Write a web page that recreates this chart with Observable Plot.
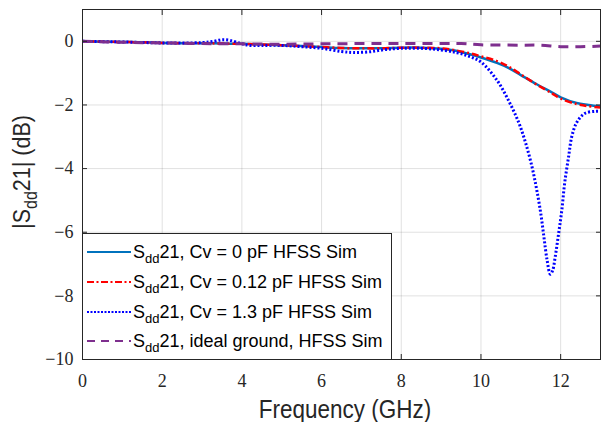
<!DOCTYPE html>
<html><head><meta charset="utf-8">
<script src="https://cdn.jsdelivr.net/npm/d3@7"></script>
<script src="https://cdn.jsdelivr.net/npm/@observablehq/plot@0.6"></script>
<style>
body{margin:0;background:#fff}
#wrap{position:relative;width:601px;height:422px;overflow:hidden}
#legend{position:absolute;left:82px;top:233px;width:308px;height:125px;border:1px solid #262626;background:#fff;font-family:"Liberation Sans",Arial,sans-serif;font-size:18px;color:#000}
.row{position:absolute;left:4px;height:24px;display:flex;align-items:center;white-space:nowrap}
.row svg{margin-right:2px}
.sub{font-size:13px;position:relative;top:5px}
</style>
</head><body><div id="wrap"></div>
<script>
// ---- data ----
const freqCv0 = [0,0.5,1,1.5,2,2.5,3,3.5,4,4.5,5,5.5,6,6.5,7,7.5,8,8.5,9,9.3,9.7,10,10.4,10.7,11,11.4,11.8,12,12.4,12.7,13];
const sddCv0  = [0,-0.01,-0.02,-0.03,-0.05,-0.06,-0.06,-0.07,-0.08,-0.1,-0.12,-0.15,-0.18,-0.21,-0.22,-0.22,-0.2,-0.2,-0.23,-0.28,-0.4,-0.51,-0.68,-0.84,-1.06,-1.35,-1.62,-1.76,-1.94,-2.0,-2.05];

const freqCv012 = [0,0.5,1,1.5,2,2.5,3,3.5,4,4.5,5,5.5,6,6.5,7,7.5,8,8.5,9,9.3,9.7,10,10.4,10.7,11,11.4,11.8,12,12.4,12.7,13];
const sddCv012  = [0,-0.01,-0.02,-0.03,-0.05,-0.06,-0.06,-0.07,-0.08,-0.1,-0.12,-0.15,-0.18,-0.21,-0.22,-0.22,-0.2,-0.2,-0.22,-0.27,-0.37,-0.47,-0.62,-0.8,-1.04,-1.36,-1.65,-1.8,-1.97,-2.04,-2.08];

const freqCv13 = [0,0.5,1,2,3,3.3,3.5,3.7,4,4.2,4.5,5,5.5,6,6.5,6.8,7.2,7.6,8,8.5,9,9.4,9.7,10,10.4,10.7,10.95,11.12,11.28,11.4,11.5,11.58,11.66,11.74,11.8,11.86,11.95,12.03,12.1,12.2,12.28,12.4,12.6,12.87,13];
const sddCv13  = [0,-0.01,-0.02,-0.05,-0.04,0.0,0.05,0.03,-0.08,-0.13,-0.13,-0.13,-0.17,-0.22,-0.32,-0.35,-0.33,-0.26,-0.22,-0.22,-0.27,-0.36,-0.47,-0.65,-1.22,-1.88,-2.56,-3.19,-3.94,-4.67,-5.4,-6.15,-6.88,-7.32,-7.2,-6.8,-6.03,-5.3,-4.46,-3.62,-2.99,-2.56,-2.27,-2.2,-2.2];

const freqIdeal = [0,1,2,3,4,5,6,7,8,9,9.5,10,11,11.5,12,12.5,13];
const sddIdeal  = [0,-0.03,-0.05,-0.07,-0.08,-0.09,-0.08,-0.07,-0.07,-0.07,-0.07,-0.11,-0.12,-0.12,-0.17,-0.17,-0.15];

const xTicks = [0,2,4,6,8,10,12];
const yTicks = [0,-2,-4,-6,-8,-10];
const legendLabels = [
  ["S","dd","21, Cv = 0 pF HFSS Sim"],
  ["S","dd","21, Cv = 0.12 pF HFSS Sim"],
  ["S","dd","21, Cv = 1.3 pF HFSS Sim"],
  ["S","dd","21, ideal ground, HFSS Sim"]
];
const xLabel = "Frequency (GHz)";
const yLabelParts = ["|S","dd","21| (dB)"];

// ---- styles ----
const colors = ["#0072BD","#FF0000","#0000FF","#7E2F8E"];
const dashes = [null,"7,3,2,3","2,2","10,7"];
const widths = [2.5,2.5,3,3];
const tickFont = "'Liberation Serif','DejaVu Serif',serif";

const rows = (fs, vs) => fs.map((f,i)=>({f, v: vs[i]}));
const series = [rows(freqCv0,sddCv0), rows(freqCv012,sddCv012), rows(freqCv13,sddCv13), rows(freqIdeal,sddIdeal)];

const plot = Plot.plot({
  width: 601, height: 422,
  marginLeft: 82, marginRight: 1, marginTop: 9, marginBottom: 63,
  style: {background:"#fff", color:"#262626", overflow:"visible"},
  x: {domain:[0,13]},
  y: {domain:[-10,1]},
  marks: [
    Plot.gridX(xTicks, {stroke:"#000", strokeOpacity:0.12}),
    Plot.gridY(yTicks, {stroke:"#000", strokeOpacity:0.12}),
    ...series.map((d,i)=>Plot.line(d, {x:"f", y:"v", stroke:colors[i], strokeWidth:widths[i], strokeDasharray:dashes[i], strokeLinecap:"butt", curve:"catmull-rom"})),
    Plot.axisX(xTicks, {anchor:"bottom", tickSize:-5, tickPadding:20, label:null, fill:"#262626", fontFamily:tickFont, fontSize:18}),
    Plot.axisX(xTicks, {anchor:"top", tickSize:-5, tickFormat:()=>"", label:null}),
    Plot.axisY(yTicks, {anchor:"left", tickSize:-5, tickPadding:14, label:null, fill:"#262626", fontFamily:tickFont, fontSize:18}),
    Plot.axisY(yTicks, {anchor:"right", tickSize:-5, tickFormat:()=>"", label:null}),
    Plot.frame({stroke:"#262626", strokeWidth:1})
  ]
});

const wrap = document.getElementById("wrap");
wrap.appendChild(plot);

const svg = d3.select(plot);

// axis titles
svg.append("text")
  .attr("transform","translate(345,418) scale(1,1.15)")
  .attr("text-anchor","middle")
  .style("font-family","'Liberation Sans',Arial,sans-serif")
  .style("font-size","22.5px").attr("fill","#262626")
  .text(xLabel);
const yl = svg.append("text")
  .attr("transform","translate(30,172) rotate(-90) scale(1,1.15)")
  .attr("text-anchor","middle")
  .style("font-family","'Liberation Sans',Arial,sans-serif")
  .style("font-size","21.5px").attr("fill","#262626");
yl.append("tspan").text(yLabelParts[0]);
yl.append("tspan").style("font-size","16px").attr("dy",6).text(yLabelParts[1]);
yl.append("tspan").attr("dy",-6).text(yLabelParts[2]);

// legend overlay
const leg = document.createElement("div");
leg.id = "legend";
const rowTops = [6, 36, 66, 95];
legendLabels.forEach((lab,i)=>{
  const r = document.createElement("div");
  r.className = "row";
  r.style.top = rowTops[i] + "px";
  const ns = "http://www.w3.org/2000/svg";
  const s = document.createElementNS(ns,"svg");
  s.setAttribute("width",44); s.setAttribute("height",10);
  const l = document.createElementNS(ns,"line");
  l.setAttribute("x1",0); l.setAttribute("x2",44); l.setAttribute("y1",5); l.setAttribute("y2",5);
  l.setAttribute("stroke",colors[i]); l.setAttribute("stroke-width",2);
  if (dashes[i]) l.setAttribute("stroke-dasharray", i===2 ? "2,1.5" : i===1 ? "7,2.5,2,2.5" : "8,6");
  s.appendChild(l);
  r.appendChild(s);
  const t = document.createElement("span");
  t.innerHTML = `${lab[0]}<span class="sub">${lab[1]}</span>${lab[2]}`;
  r.appendChild(t);
  leg.appendChild(r);
});
wrap.appendChild(leg);
</script>
</body></html>
